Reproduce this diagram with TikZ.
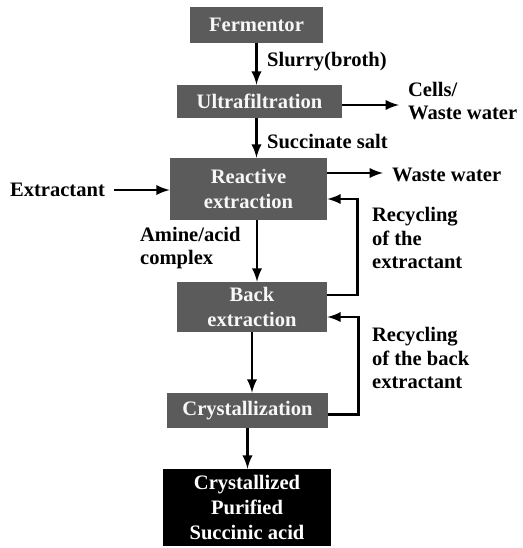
\documentclass[tikz,border=0pt]{standalone}
\usepackage{fontspec}
\setmainfont{Liberation Serif}
\usepackage{xcolor}
\usepackage{tikz}
\usetikzlibrary{calc}
\usetikzlibrary{shapes,arrows,positioning}
\definecolor{boxgray}{HTML}{5B5B5B}
\tikzset{
	stage/.style={fill=boxgray,text=gray!6,font=\fontsize{11.7}{14}\selectfont\bfseries,align=center,inner sep=0pt},
	lbl/.style={font=\fontsize{11.7}{13.4}\selectfont\bfseries,align=left,inner sep=5pt},
	flow/.style={-latex,line width=1.6pt}
}
\begin{document}
\begin{tikzpicture}[x=0.02cm,y=-0.02cm]
		\useasboundingbox (0,0) rectangle (522,548);
		% process stages
		\node[stage,minimum width=133*0.02cm,minimum height=36*0.02cm] (ferm) at (256.5,25) {Fermentor};
		\node[stage,minimum width=165*0.02cm,minimum height=33*0.02cm] (ultra) at (259.5,101.5) {Ultrafiltration};
		\node[stage,minimum width=157*0.02cm,minimum height=62*0.02cm] (react) at (248.5,189) {Reactive\\extraction};
		\node[stage,minimum width=150*0.02cm,minimum height=50*0.02cm] (back) at (252,307) {Back\\extraction};
		\node[stage,minimum width=161*0.02cm,minimum height=35*0.02cm] (cryst) at (247.5,410.5) {Crystallization};
		\node[stage,fill=black,text=white,minimum width=168*0.02cm,minimum height=77*0.02cm] (prod) at (247,507.5) {Crystallized\\Purified\\Succinic acid};
		% labels
		\node[lbl,anchor=west] (slurry) at (258,62) {Slurry(broth)};
		\node[lbl,anchor=west] (cells) at (399,101) {Cells/\\Waste water};
		\node[lbl,anchor=west] (salt) at (258,141) {Succinate salt};
		\node[lbl,anchor=west] (waste) at (383,175) {Waste water};
		\node[lbl,anchor=east] (extr) at (114,190) {Extractant};
		\node[lbl,anchor=west] (amine) at (131,248) {Amine/acid\\complex};
		\node[lbl,anchor=west] (recext) at (363,238) {Recycling\\of the\\extractant};
		\node[lbl,anchor=west] (recback) at (363,358) {Recycling\\of the back\\extractant};
		% flows
		\draw[flow] (ferm.south) -- (ferm.south |- ultra.north);
		\draw[flow] (ferm.south |- ultra.south) -- (ferm.south |- react.north);
		\draw[flow] ($(ultra.east)+(0,3.5)$) -- ($(ultra.east -| cells.west)+(0,3.5)$);
		\draw[flow] ($(react.east)+(0,-16)$) -- ($(react.east -| waste.west)+(0,-16)$);
		\draw[flow] (extr.east) -- (extr.east -| react.west);
		\draw[flow] ($(react.south)+(8.5,0)$) -- ($(react.south |- back.north)+(8.5,0)$);
		\draw[flow] (back.south) -- (back.south |- cryst.north);
		\draw[flow] (cryst.south) -- (cryst.south |- prod.north);
		% recycle loops
		\draw[flow] ($(back.east)+(0,-12)$) -- ++(30,0) |- ($(react.east)+(0,10)$);
		\draw[flow] ($(cryst.east)+(0,4)$) -- ++(30,0) |- ($(back.east)+(0,10)$);
	\end{tikzpicture}
\end{document}
